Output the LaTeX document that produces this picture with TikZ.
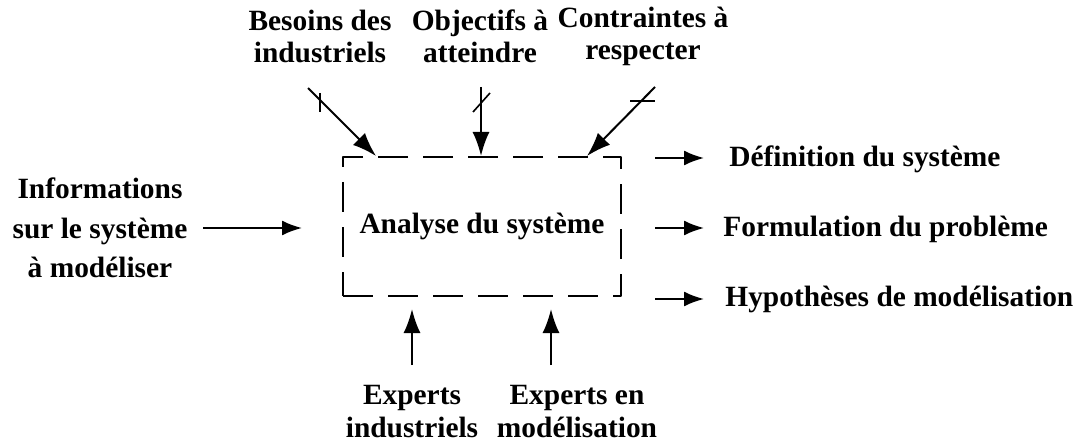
\documentclass[tikz,border=0pt]{standalone}
\usepackage{fontspec}
\setmainfont{Liberation Serif}
\usepackage{tikz}
\usetikzlibrary{arrows.meta,calc}

\tikzset{
    lbl/.style={font=\fontsize{14.7}{16}\selectfont\bfseries,inner sep=0pt,align=center},
    flow/.style={line width=1pt,-{Latex[length=12pt,width=8.5pt]}},
    outflow/.style={line width=1pt,-{Latex[length=10pt,width=7.5pt]}},
    tick/.style={line width=0.8pt}
}

\begin{document}
\begin{tikzpicture}[x=0.5pt,y=-0.5pt,join=round]
        \useasboundingbox (0,0) rectangle (1080,443);
        % central block
        \node[draw,dashed,line width=1pt,dash pattern=on 15pt off 7.5pt,
              minimum width=139pt,minimum height=69.5pt,lbl] (sys) at (482,226.5) {Analyse du syst\`eme};
        % labels
        \node[lbl] (besoins) at (320,36) {Besoins des\\industriels};
        \node[lbl] (objectifs) at (480,36) {Objectifs \`a\\atteindre};
        \node[lbl] (contraintes) at (643,36) {Contraintes \`a\\respecter};
        \node[lbl,font=\fontsize{14.7}{19.75}\selectfont\bfseries] (infos) at (100,228) {Informations\\sur le syst\`eme\\\`a mod\'eliser};
        \node[lbl,anchor=west] (defin) at (729,159) {D\'efinition du syst\`eme};
        \node[lbl,anchor=west] (formul) at (723,229) {Formulation du probl\`eme};
        \node[lbl,anchor=west] (hypo) at (725,299) {Hypoth\`eses de mod\'elisation};
        \node[lbl,font=\fontsize{14.7}{16.5}\selectfont\bfseries] (expind) at (412,412) {Experts\\industriels};
        \node[lbl,font=\fontsize{14.7}{16.5}\selectfont\bfseries] (expmod) at (577,412) {Experts en\\mod\'elisation};
        % free ends of the connectors
        \coordinate (tb) at (308,88);
        \coordinate (to) at (481,87);
        \coordinate (tc) at (655,87);
        \coordinate (ti) at (203,228);
        \coordinate (od) at (655,158);
        \coordinate (of) at (655,228);
        \coordinate (oh) at (655,299);
        \coordinate (bi) at (412,365);
        \coordinate (bm) at (551,365);
        % inputs from above
        \draw[flow] (tb) -- ([xshift=-53pt]sys.north);
        \draw[flow] (to) -- ([xshift=-0.5pt]sys.north);
        \draw[flow] (tc) -- ([xshift=52.5pt]sys.north);
        \draw[tick] (320,93) -- (320,112);
        \draw[tick] (473,112) -- (490,93);
        \draw[tick] (630,101) -- (655,101);
        % input from the left
        \draw[outflow] (ti) -- ([xshift=-20pt,yshift=-0.75pt]sys.west);
        % outputs
        \draw[outflow] (od) -- ++(49,0);
        \draw[outflow] (of) -- ++(49,0);
        \draw[outflow] (oh) -- ++(49,0);
        % resources from below
        \draw[flow] (bi) -- ([xshift=-35pt,yshift=-6pt]sys.south);
        \draw[flow] (bm) -- ([xshift=34.5pt,yshift=-6pt]sys.south);
\end{tikzpicture}
\end{document}
